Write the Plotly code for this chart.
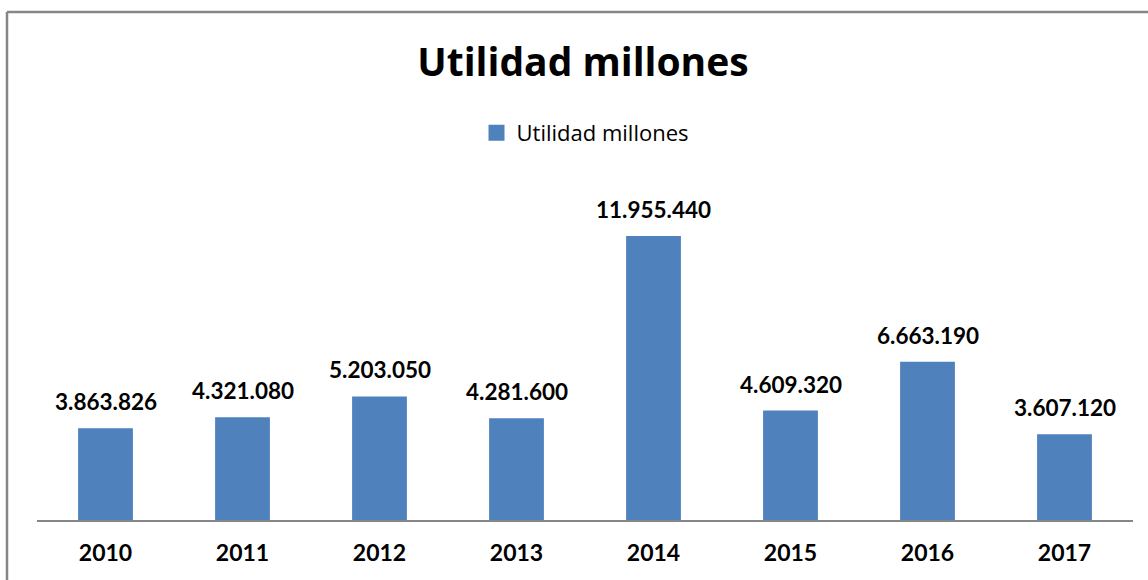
import plotly.graph_objects as go

years = ["2010", "2011", "2012", "2013", "2014", "2015", "2016", "2017"]
utilidad = [3863826, 4321080, 5203050, 4281600, 11955440, 4609320, 6663190, 3607120]
series_name = "Utilidad millones"
title_text = "Utilidad millones"

NUMFONT = "Lato, Carlito, Calibri, sans-serif"
TXTFONT = "Open Sans, sans-serif"
BLUE = "#4F81BD"

W, H = 1148, 580
L, R, T, B = 37, 15, 170, 60
pw = W - L - R
ph = H - T - B
px_per_unit = 284 / 11955440
ymax = ph / px_per_unit

fig = go.Figure()
fig.add_trace(go.Bar(
    x=years, y=utilidad, name=series_name,
    marker=dict(color=BLUE, line=dict(width=0)),
    showlegend=False,
))
# legend entry with a larger square swatch
fig.add_trace(go.Scatter(
    x=[None], y=[None], mode="markers", name=series_name,
    marker=dict(symbol="square", size=16, color=BLUE, line=dict(width=0)),
    showlegend=True,
))

for i, yv in enumerate(utilidad):
    fig.add_annotation(
        x=i, y=yv, xref="x", yref="y",
        text=f"{yv:,}".replace(",", "."),
        showarrow=False, yanchor="bottom", yshift=11,
        font=dict(family=NUMFONT, size=22.5, color="#000000", weight="bold"),
    )

# chart border (left and top edges visible)
fig.add_shape(type="line", xref="paper", yref="paper",
              x0=(7 - L) / pw, x1=(7 - L) / pw, y0=(H - B - 12) / ph, y1=-1,
              line=dict(color="#868686", width=2.5))
fig.add_shape(type="line", xref="paper", yref="paper",
              x0=(7 - L) / pw, x1=2, y0=(H - B - 12) / ph, y1=(H - B - 12) / ph,
              line=dict(color="#868686", width=2.5))

fig.update_layout(
    width=W, height=H,
    margin=dict(l=L, r=R, t=T, b=B),
    paper_bgcolor="white", plot_bgcolor="white",
    separators=",.",
    bargap=0.6,
    title=dict(text=title_text, x=583 / W, xanchor="center", xref="container",
               y=1 - 62 / H, yanchor="middle", yref="container",
               font=dict(family=TXTFONT, size=39, color="#000000", weight="bold")),
    legend=dict(orientation="h", x=(585 - L) / pw, xanchor="center",
                y=(H - B - 133) / ph, yanchor="middle",
                font=dict(family=TXTFONT, size=22, color="#000000"),
                itemsizing="trace"),
    xaxis=dict(type="category", range=[-0.5, len(years) - 0.5],
               showline=True, linecolor="#868686", linewidth=1.5,
               ticks="", showgrid=False,
               tickfont=dict(family=NUMFONT, size=23, color="#000000", weight="bold"),
               ticklabelstandoff=12),
    yaxis=dict(range=[0, ymax], visible=False, showgrid=False),
)

fig.write_html("out.html")
